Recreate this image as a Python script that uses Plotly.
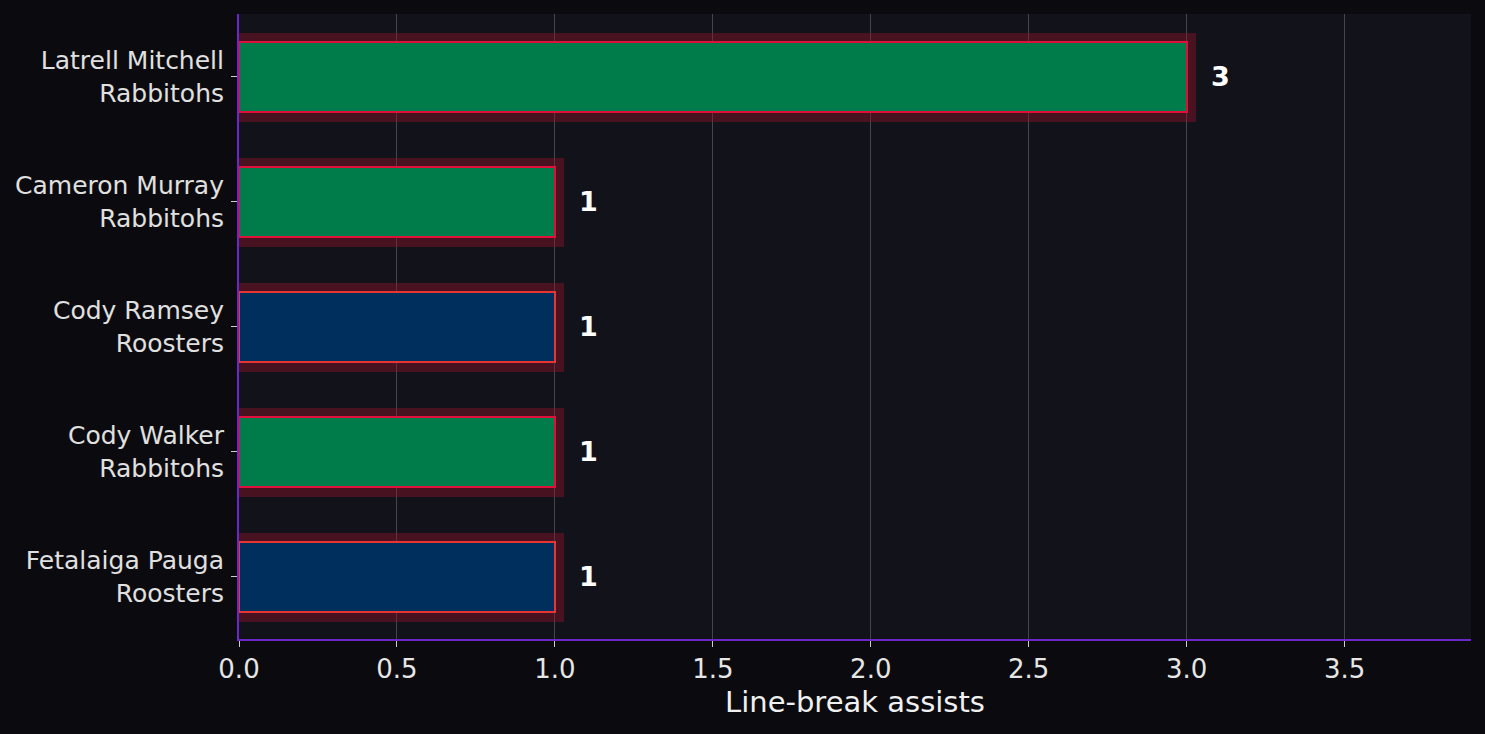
import plotly.graph_objects as go

players = ["Latrell Mitchell", "Cameron Murray", "Cody Ramsey", "Cody Walker", "Fetalaiga Pauga"]
teams = ["Rabbitohs", "Rabbitohs", "Roosters", "Rabbitohs", "Roosters"]
assists = [3, 1, 1, 1, 1]

team_fill = {"Rabbitohs": "#007c4b", "Roosters": "#002f5e"}
team_edge = {"Rabbitohs": "#e0103a", "Roosters": "#e53535"}

labels = [f"{p}<br>{t}" for p, t in zip(players, teams)]

fig = go.Figure()

# glow / shadow behind each bar, nudged a little down and right
fig.add_trace(go.Bar(
    y=labels, x=[v + 0.03 for v in assists], orientation="h",
    width=0.705, offset=-0.345,
    marker=dict(color="rgba(140,20,40,0.45)", line=dict(width=0)),
    hoverinfo="skip", showlegend=False,
))

fig.add_trace(go.Bar(
    y=labels, x=assists, orientation="h", width=0.56,
    marker=dict(color=[team_fill[t] for t in teams],
                line=dict(color=[team_edge[t] for t in teams], width=2)),
    showlegend=False,
))

for lab, v in zip(labels, assists):
    fig.add_annotation(x=v, y=lab, text=f"<b>{v}</b>", showarrow=False,
                       xanchor="left", xshift=22,
                       font=dict(size=27, color="white", family="DejaVu Sans"))

fig.update_layout(
    width=1485, height=734,
    barmode="overlay",
    paper_bgcolor="#0b0b0f",
    plot_bgcolor="#12121a",
    margin=dict(l=239, r=14, t=14, b=95),
    font=dict(family="DejaVu Sans", color="#e6e6e6"),
    bargap=0,
)
fig.update_xaxes(
    range=[0, 3.9], dtick=0.5, tickformat=".1f",
    showgrid=True, gridcolor="#45454c", gridwidth=1,
    zeroline=False,
    showline=True, linecolor="#6a28c8", linewidth=2,
    ticks="outside", ticklen=6, tickcolor="#cccccc",
    tickfont=dict(size=26, color="#e6e6e6"),
    title=dict(text="Line-break assists", font=dict(size=29, color="#f0f0f0"), standoff=8),
)
fig.update_yaxes(
    categoryorder="array", categoryarray=labels,
    range=[4.5, -0.5],
    showgrid=False, zeroline=False,
    showline=True, linecolor="#6a28c8", linewidth=2,
    ticks="outside", ticklen=6, tickcolor="#cccccc",
    ticklabelstandoff=2,
    tickfont=dict(size=25, color="#e0e0e0"),
)

fig.write_html("out.html", config={"displayModeBar": False},
               post_script="document.body.style.margin='0';")
